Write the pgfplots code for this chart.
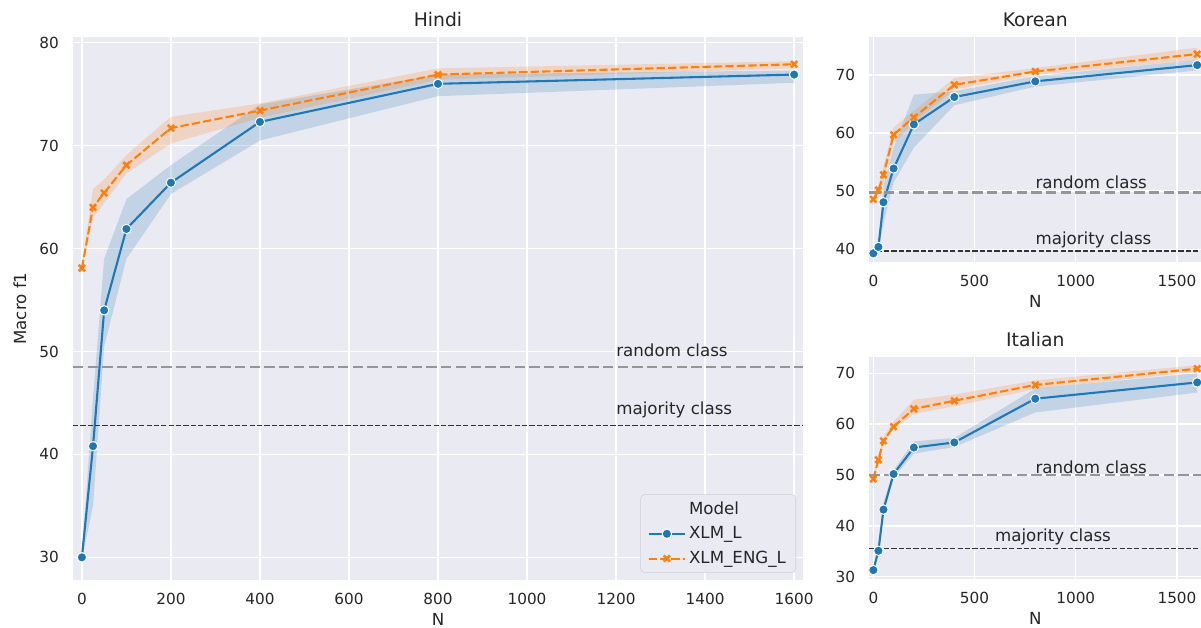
\documentclass[border=0pt]{standalone}
\usepackage{pgfplots}
\pgfplotsset{compat=1.18}
\usepackage{pgfplotstable}
\usepgfplotslibrary{fillbetween}
\usepackage{fontspec}
\setmainfont{DejaVu Sans}

\definecolor{c1}{RGB}{31,119,180}
\definecolor{c2}{RGB}{255,127,14}
\definecolor{bg}{RGB}{234,234,242}
\definecolor{txt}{RGB}{38,38,38}
\definecolor{crand}{RGB}{150,150,150}
\definecolor{cmaj}{RGB}{50,50,50}

\pgfplotstableread{
N L Llo Lhi E Elo Ehi
0 30.0 29.8 30.3 58.1 57.8 58.4
25 40.8 35.0 45.5 64.0 63.0 65.8
50 54.0 50.5 59.0 65.4 64.4 66.7
100 61.9 59.0 64.8 68.1 67.3 69.1
200 66.4 65.3 68.1 71.7 70.2 72.8
400 72.3 70.5 74.0 73.4 72.7 74.1
800 76.0 74.8 76.9 76.9 76.4 77.5
1600 76.9 76.1 77.3 77.9 77.5 78.2
}\hindi

\pgfplotstableread{
N L Llo Lhi E Elo Ehi
0 39.3 39.1 39.5 48.6 48.3 49.0
25 40.4 39.8 41.0 50.2 49.5 51.0
50 48.1 44.5 51.0 52.8 51.5 54.3
100 53.9 51.5 57.5 59.7 58.2 61.0
200 61.5 57.5 66.6 62.7 61.8 63.8
400 66.2 64.8 67.2 68.3 67.5 69.5
800 68.9 68.0 69.8 70.6 70.0 71.2
1600 71.7 70.8 72.6 73.6 72.6 74.7
}\korean

\pgfplotstableread{
N L Llo Lhi E Elo Ehi
0 31.3 31.1 31.5 49.2 48.8 49.6
25 35.1 34.5 35.8 53.0 52.5 53.5
50 43.2 42.0 44.5 56.7 56.2 57.5
100 50.2 49.5 51.0 59.5 59.0 60.5
200 55.4 54.2 56.6 63.0 62.0 64.8
400 56.4 55.5 57.3 64.6 63.5 65.8
800 65.0 62.3 67.0 67.7 66.9 68.6
1600 68.2 66.2 70.0 70.9 70.3 71.6
}\italian

\pgfplotsset{
  sea/.style={
    scale only axis,
    axis background/.style={fill=bg},
    axis line style={draw=none},
    major tick length=0pt,
    tick style={draw=none},
    grid=major,
    grid style={white, line width=1pt},
    tick label style={font=\fontsize{11}{13}\selectfont, text=txt},
    /pgf/number format/assume math mode=true,
    /pgf/number format/1000 sep={},
    scaled ticks=false,
    xticklabel style={inner sep=0pt, anchor=north, yshift=-9.4pt},
    yticklabel style={inner sep=0pt, anchor=east, xshift=-10pt},
    every axis title/.style={font=\fontsize{13.5}{16}\selectfont, text=txt, at={(axis description cs:0.5,1)}, anchor=base, yshift=7.9pt, inner sep=0pt},
    label style={font=\fontsize{12}{14}\selectfont, text=txt},
    xlabel style={anchor=base, inner sep=0pt},
    xmin=-20, xmax=1620,
    clip=false,
  },
  mL/.style={c1, line width=1.5pt, mark=*, mark size=3.4pt, mark options={fill=c1, draw=white, line width=0.7pt, solid}},
  mE/.style={c2, line width=1.5pt, dash pattern=on 6pt off 2.25pt, mark=x, mark size=3.2pt, mark options={c2, line width=1.8pt, solid}},
}

\newcommand{\langplots}[3]{%
  \addplot[draw=none, name path=lu, forget plot] table[x=N,y=Lhi]{#1};
  \addplot[draw=none, name path=ll, forget plot] table[x=N,y=Llo]{#1};
  \addplot[fill=c1, fill opacity=0.2, draw=none, forget plot] fill between[of=lu and ll];
  \addplot[draw=none, name path=eu, forget plot] table[x=N,y=Ehi]{#1};
  \addplot[draw=none, name path=el, forget plot] table[x=N,y=Elo]{#1};
  \addplot[fill=c2, fill opacity=0.2, draw=none, forget plot] fill between[of=eu and el];
  \addplot[mL, forget plot] table[x=N,y=L]{#1};
  \addplot[mE, forget plot] table[x=N,y=E]{#1};
  \addplot[crand, line width=2pt, dash pattern=on 7.4pt off 3.2pt, forget plot] coordinates {(-20,#2) (1620,#2)};
  \addplot[cmaj, line width=1pt, dash pattern=on 3.7pt off 1.6pt, forget plot] coordinates {(-20,#3) (1620,#3)};
}

\begin{document}
\begin{tikzpicture}

% Hindi
\begin{axis}[sea,
  at={(52.56pt,34.56pt)}, anchor=south west,
  width=525.6pt, height=390.96pt,
  ymin=27.8, ymax=80.55,
  xtick={0,200,...,1600}, ytick={30,40,...,80},
  title={Hindi}, xlabel={N}, ylabel={Macro f1},
  xlabel style={at={(axis description cs:0.5,-0.083)}},
  ylabel style={at={(axis description cs:-0.0726,0.5)}, anchor=center},
  legend style={at={(axis description cs:0.9904,0.0129)}, anchor=south east,
    fill=bg, draw=black!18, rounded corners=3pt,
    font=\fontsize{12}{14}\selectfont, text=txt,
    inner xsep=5pt, inner ysep=3pt, row sep=3.5pt},
  legend cell align=left,
  legend image code/.code={\draw[mark repeat=2, mark phase=2] plot coordinates {(0pt,0pt) (13.2pt,0pt) (26.4pt,0pt)};},
]
\langplots{\hindi}{48.5}{42.8}
\addlegendimage{empty legend}\addlegendentry{Model}
\addlegendimage{mL}\addlegendentry{XLM\_L}
\addlegendimage{mE}\addlegendentry{XLM\_ENG\_L}
\node[anchor=base west, inner sep=0pt, font=\fontsize{12}{14}\selectfont, text=txt] at (axis cs:1200,49.5) {random class};
\node[anchor=base west, inner sep=0pt, font=\fontsize{12}{14}\selectfont, text=txt] at (axis cs:1200,43.85) {majority class};
\end{axis}

% Korean
\begin{axis}[sea,
  at={(625.9pt,263.52pt)}, anchor=south west,
  width=239pt, height=162pt,
  ymin=37.81, ymax=76.54,
  xtick={0,500,1000,1500}, ytick={40,50,60,70},
  title={Korean}, xlabel={N},
  xlabel style={at={(axis description cs:0.5,-0.2044)}},
]
\langplots{\korean}{49.8}{39.7}
\node[anchor=base west, inner sep=0pt, font=\fontsize{12}{14}\selectfont, text=txt] at (axis cs:800,50.4) {random class};
\node[anchor=base west, inner sep=0pt, font=\fontsize{12}{14}\selectfont, text=txt] at (axis cs:800,40.9) {majority class};
\end{axis}

% Italian
\begin{axis}[sea,
  at={(625.9pt,35.28pt)}, anchor=south west,
  width=239pt, height=159.84pt,
  ymin=29.55, ymax=73.2,
  xtick={0,500,1000,1500}, ytick={30,40,...,70},
  title={Italian}, xlabel={N},
  xlabel style={at={(axis description cs:0.5,-0.205)}},
]
\langplots{\italian}{50.0}{35.6}
\node[anchor=base west, inner sep=0pt, font=\fontsize{12}{14}\selectfont, text=txt] at (axis cs:800,50.3) {random class};
\node[anchor=base west, inner sep=0pt, font=\fontsize{12}{14}\selectfont, text=txt] at (axis cs:600,36.85) {majority class};
\end{axis}

\pgfresetboundingbox
\path[use as bounding box] (0,0) rectangle (864.72pt,452.16pt);
\end{tikzpicture}
\end{document}
